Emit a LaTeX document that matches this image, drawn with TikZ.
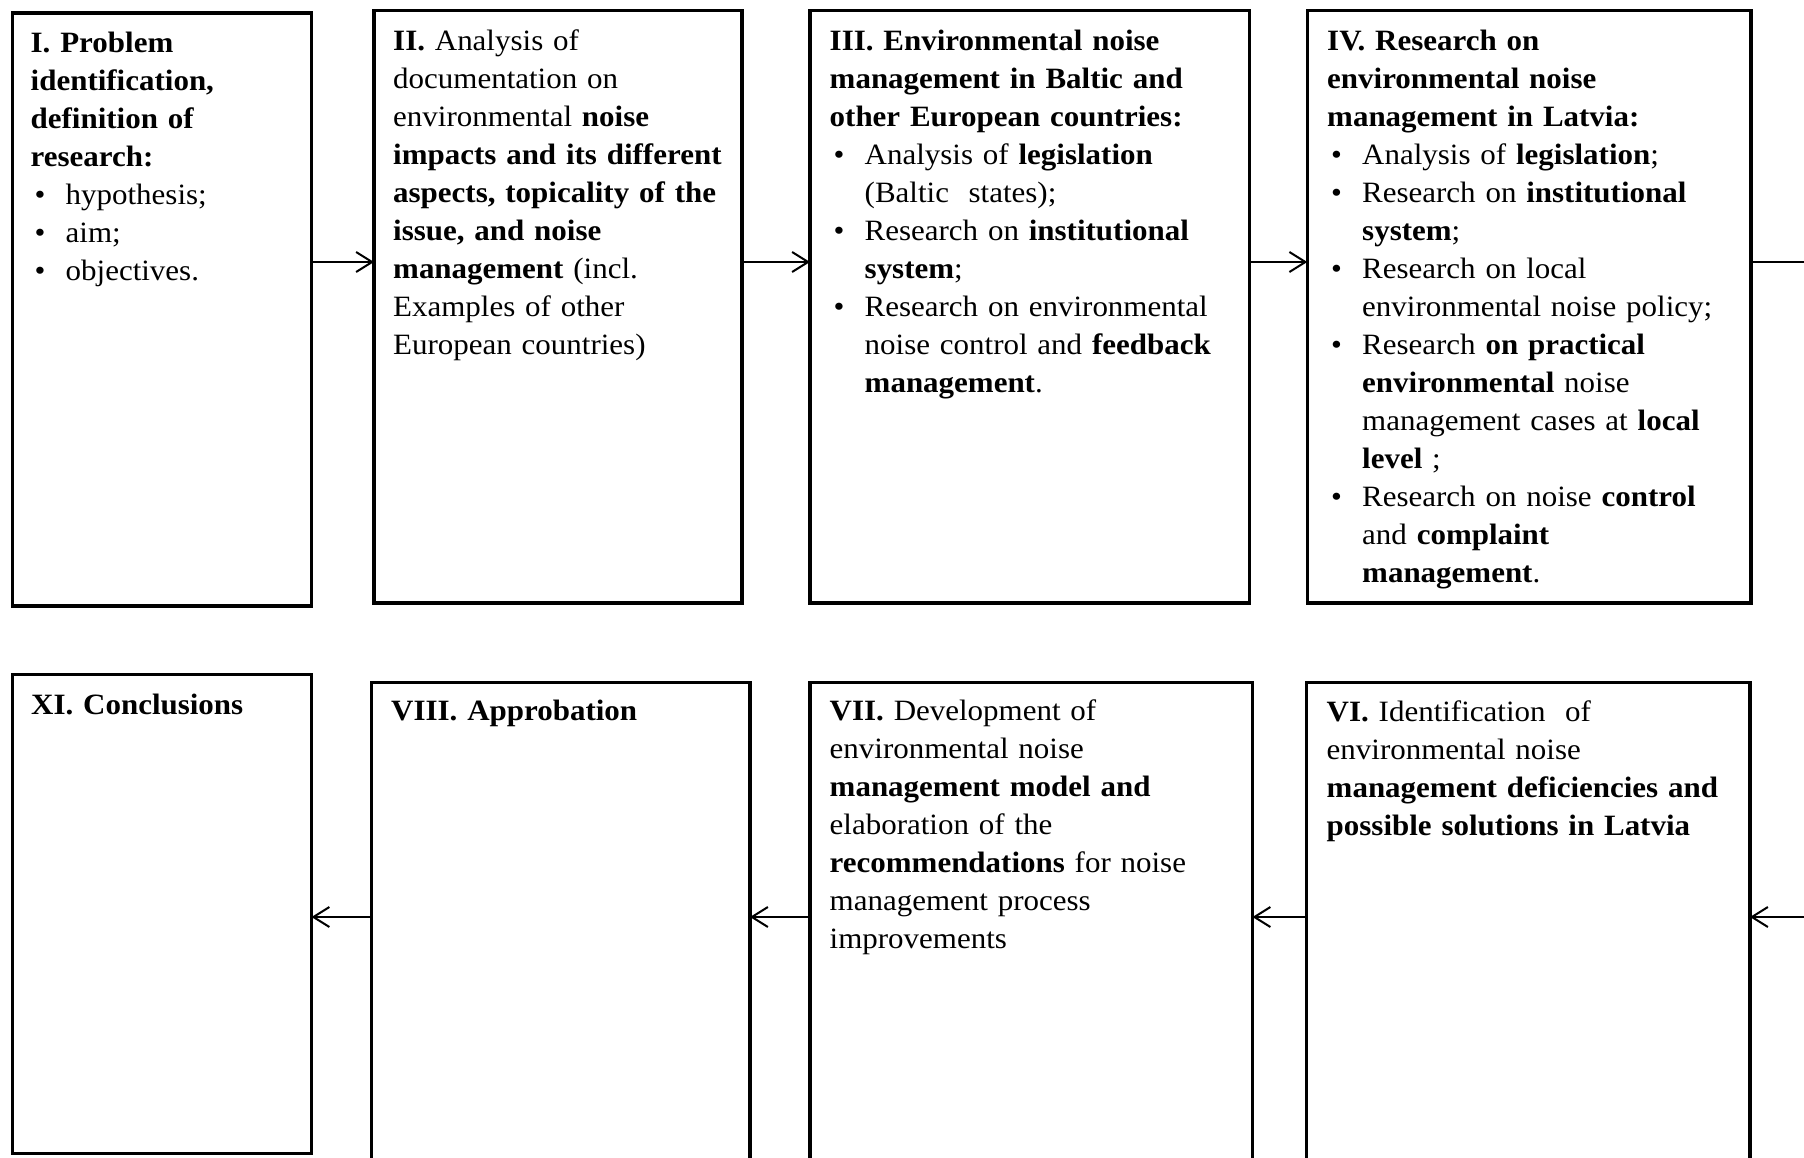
\documentclass[tikz,border=0pt]{standalone}
\usepackage{fontspec}
\setmainfont{Liberation Serif}[FakeStretch=1.05]
\usetikzlibrary{arrows.meta}

% bullet item start and continuation indent for the stage lists
\newcommand{\bul}{\makebox[35pt][l]{\hspace{4pt}•}}
\newcommand{\ind}{\hspace*{35pt}}
% fixes the height of the first line so the text block starts at a known baseline
\newcommand{\fl}{\rule{0pt}{30pt}}

\tikzset{
  stage/.style={draw, rectangle, line width=3.5pt, inner sep=0pt, outer sep=0pt, anchor=north west},
  stagetext/.style={anchor=north west, inner sep=0pt, align=left, text width=480pt,
                    font=\fontsize{29.5}{38}\selectfont},
  flow/.style={line width=2pt, -{Straight Barb[length=16pt,width=20pt,line width=2pt]}},
  flowline/.style={line width=2pt},
}

\begin{document}
\begin{tikzpicture}[x=1pt,y=-1pt]
\clip (0,0) rectangle (1804,1157);
\fill[white] (0,0) rectangle (1804,1157);

% rows of the flow
\coordinate (toprow) at (0,262);
\coordinate (botrow) at (0,917);
\coordinate (outR) at (1804,262);
\coordinate (inR) at (1804,917);

% ---------- upper row ----------
\node[stage, minimum width=299pt, minimum height=593pt] (b1) at (12.5,13) {};
\node[stagetext] (t1) at (30.5,22) {\fl\textbf{I. Problem}\\
\textbf{identification,}\\
\textbf{definition of}\\
\textbf{research:}\\
\bul hypothesis;\\
\bul aim;\\
\bul objectives.};

\node[stage, minimum width=368pt, minimum height=592.5pt] (b2) at (374,10.5) {};
\node[stagetext] (t2) at (393,20) {\fl\textbf{II.} Analysis of\\
documentation on\\
environmental \textbf{noise}\\
\textbf{impacts and its different}\\
\textbf{aspects, topicality of the}\\
\textbf{issue, and noise}\\
\textbf{management} (incl.\\
Examples of other\\
European countries)};

\node[stage, minimum width=439.5pt, minimum height=592.5pt] (b3) at (810,10.5) {};
\node[stagetext] (t3) at (829.5,20) {\fl\textbf{III. Environmental noise}\\
\textbf{management in Baltic and}\\
\textbf{other European countries:}\\
\bul Analysis of \textbf{legislation}\\
\ind (Baltic\ \ states);\\
\bul Research on \textbf{institutional}\\
\ind\textbf{system};\\
\bul Research on environmental\\
\ind noise control and \textbf{feedback}\\
\ind\textbf{management}.};

\node[stage, minimum width=443.5pt, minimum height=592.5pt] (b4) at (1307.3,10.5) {};
\node[stagetext] (t4) at (1327,20) {\fl\textbf{IV. Research on}\\
\textbf{environmental noise}\\
\textbf{management in Latvia:}\\
\bul Analysis of \textbf{legislation};\\
\bul Research on \textbf{institutional}\\
\ind\textbf{system};\\
\bul Research on local\\
\ind environmental noise policy;\\
\bul Research \textbf{on practical}\\
\ind\textbf{environmental} noise\\
\ind management cases at \textbf{local}\\
\ind\textbf{level} ;\\
\bul Research on noise \textbf{control}\\
\ind and \textbf{complaint}\\
\ind\textbf{management}.};

% ---------- lower row ----------
\node[stage, minimum width=299pt, minimum height=479pt] (b11) at (12.5,674.3) {};
\node[stagetext] (t11) at (31,684) {\fl\textbf{XI. Conclusions}};

\node[stage, minimum width=378.5pt, minimum height=520pt] (b8) at (371.5,682.3) {};
\node[stagetext] (t8) at (391,690) {\fl\textbf{VIII. Approbation}};

\node[stage, minimum width=442.5pt, minimum height=520pt] (b7) at (810,682.3) {};
\node[stagetext] (t7) at (829.5,690) {\fl\textbf{VII.} Development of\\
environmental noise\\
\textbf{management model and}\\
elaboration of the\\
\textbf{recommendations} for noise\\
management process\\
improvements};

\node[stage, minimum width=443.3pt, minimum height=520pt] (b6) at (1306.7,682.3) {};
\node[stagetext] (t6) at (1326.5,691) {\fl\textbf{VI.} Identification\ \ of\\
environmental noise\\
\textbf{management deficiencies and}\\
\textbf{possible solutions in Latvia}};

% ---------- connectors ----------
\draw[flow] (b1.east |- toprow) -- (b2.west |- toprow);
\draw[flow] (b2.east |- toprow) -- (b3.west |- toprow);
\draw[flow] (b3.east |- toprow) -- (b4.west |- toprow);
\draw[flowline] (b4.east |- toprow) -- (outR);

\draw[flow] (inR) -- (b6.east |- botrow);
\draw[flow] (b6.west |- botrow) -- (b7.east |- botrow);
\draw[flow] (b7.west |- botrow) -- (b8.east |- botrow);
\draw[flow] (b8.west |- botrow) -- (b11.east |- botrow);
\end{tikzpicture}
\end{document}
